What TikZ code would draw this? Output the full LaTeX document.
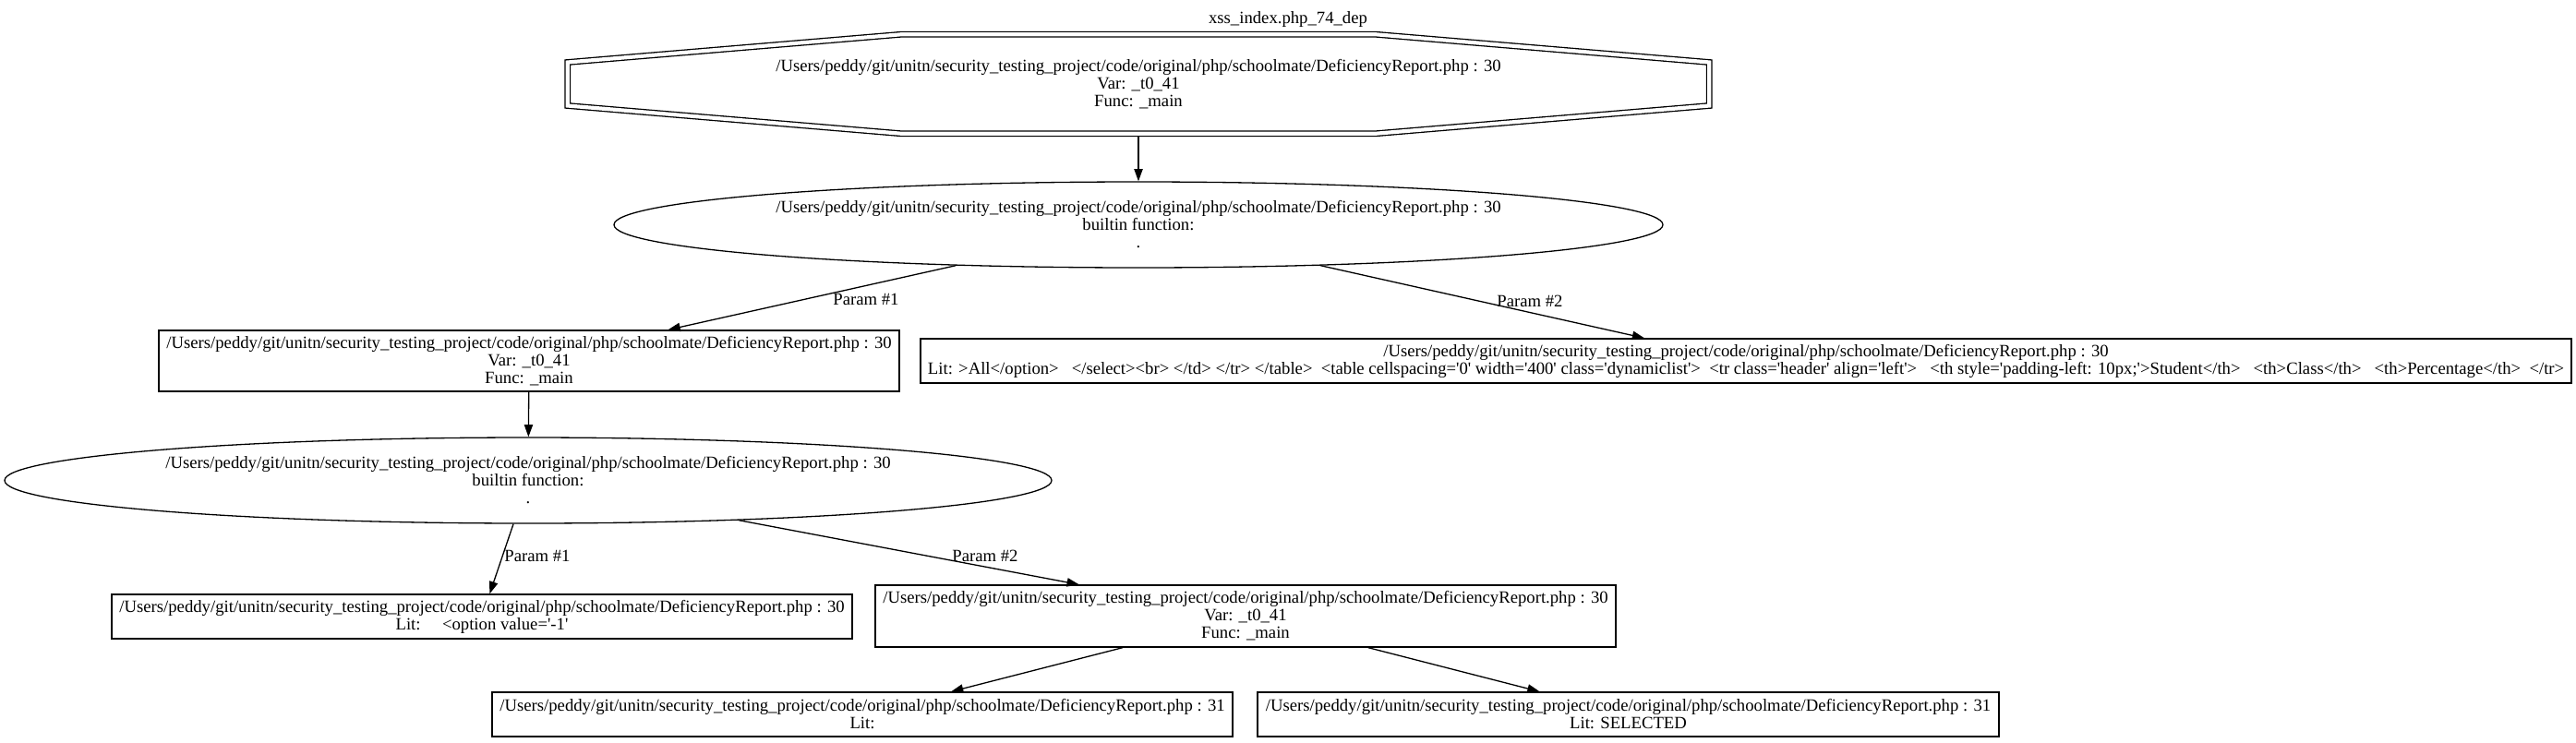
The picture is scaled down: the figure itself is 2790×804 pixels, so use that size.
\documentclass[tikz,border=0pt]{standalone}
\usepackage{fontspec}
\newfontfamily\gvfont{Liberation Serif}
\usetikzlibrary{arrows.meta,shapes.geometric}
\begin{document}
\begin{tikzpicture}[x=1pt,y=-1pt,
  every node/.style={font=\gvfont\fontsize{18.7}{19}\selectfont, align=center, inner sep=0pt},
  boxnode/.style={draw, line width=1.3pt, rectangle, minimum height=48},
  ellnode/.style={draw, line width=1.3pt, ellipse, minimum width=1136, minimum height=93},
  conn/.style={line width=1.3pt, -{Triangle[length=13.3pt,width=9.3pt]}}
]
\useasboundingbox (0,0) rectangle (2790,804);

\node (title) at (1395,21) {xss\_index.php\_74\_dep};

\node[minimum width=1242, minimum height=113] (A) at (1233,91)
  {/Users/peddy/git/unitn/security\_testing\_project/code/original/php/schoolmate/DeficiencyReport.php : 30\\Var: \_t0\_41\\Func: \_main};
\draw[shift={(A.center)}, line width=1.3pt, double, double distance=4.2pt]
  (-256.9,-53.75) -- (256.9,-53.75) -- (618.25,-23.5) -- (618.25,23.5)
  -- (256.9,53.75) -- (-256.9,53.75) -- (-618.25,23.5) -- (-618.25,-23.5) -- cycle;

\node[ellnode] (B) at (1233,243.5)
  {/Users/peddy/git/unitn/security\_testing\_project/code/original/php/schoolmate/DeficiencyReport.php : 30\\builtin function:\\.};

\node[boxnode, minimum width=802, minimum height=66] (C) at (573,391)
  {/Users/peddy/git/unitn/security\_testing\_project/code/original/php/schoolmate/DeficiencyReport.php : 30\\Var: \_t0\_41\\Func: \_main};

\node[boxnode, minimum width=1788] (E) at (1891,391)
  {/Users/peddy/git/unitn/security\_testing\_project/code/original/php/schoolmate/DeficiencyReport.php : 30\\Lit: >All</option>~~~</select><br> </td> </tr> </table>~~<table cellspacing='0' width='400' class='dynamiclist'>~~<tr class='header' align='left'>~~~<th style='padding-left: 10px;'>Student</th>~~~<th>Class</th>~~~<th>Percentage</th>~~</tr>};

\node[ellnode, minimum width=1134] (D) at (572,520.5)
  {/Users/peddy/git/unitn/security\_testing\_project/code/original/php/schoolmate/DeficiencyReport.php : 30\\builtin function:\\.};

\node[boxnode, minimum width=802] (F) at (522,668)
  {/Users/peddy/git/unitn/security\_testing\_project/code/original/php/schoolmate/DeficiencyReport.php : 30\\Lit:~~~~~<option value='-1'};

\node[boxnode, minimum width=802, minimum height=67] (G) at (1349,667.5)
  {/Users/peddy/git/unitn/security\_testing\_project/code/original/php/schoolmate/DeficiencyReport.php : 30\\Var: \_t0\_41\\Func: \_main};

\node[boxnode, minimum width=802] (H) at (934,774)
  {/Users/peddy/git/unitn/security\_testing\_project/code/original/php/schoolmate/DeficiencyReport.php : 31\\Lit: };

\node[boxnode, minimum width=803] (I) at (1763.5,774)
  {/Users/peddy/git/unitn/security\_testing\_project/code/original/php/schoolmate/DeficiencyReport.php : 31\\Lit: SELECTED};

\node (l1) at (938,324) {Param \#1};
\node (l2) at (1657,326) {Param \#2};
\node (l3) at (582,602) {Param \#1};
\node (l4) at (1067,602) {Param \#2};

\draw[conn] (A) -- (B);
\draw[conn] (B) -- (C);
\draw[conn] (B) -- (E);
\draw[conn] (C) -- (D);
\draw[conn] (D) -- (F);
\draw[conn] (D) -- (G);
\draw[conn] (G) -- (H);
\draw[conn] (G) -- (I);
\end{tikzpicture}
\end{document}
